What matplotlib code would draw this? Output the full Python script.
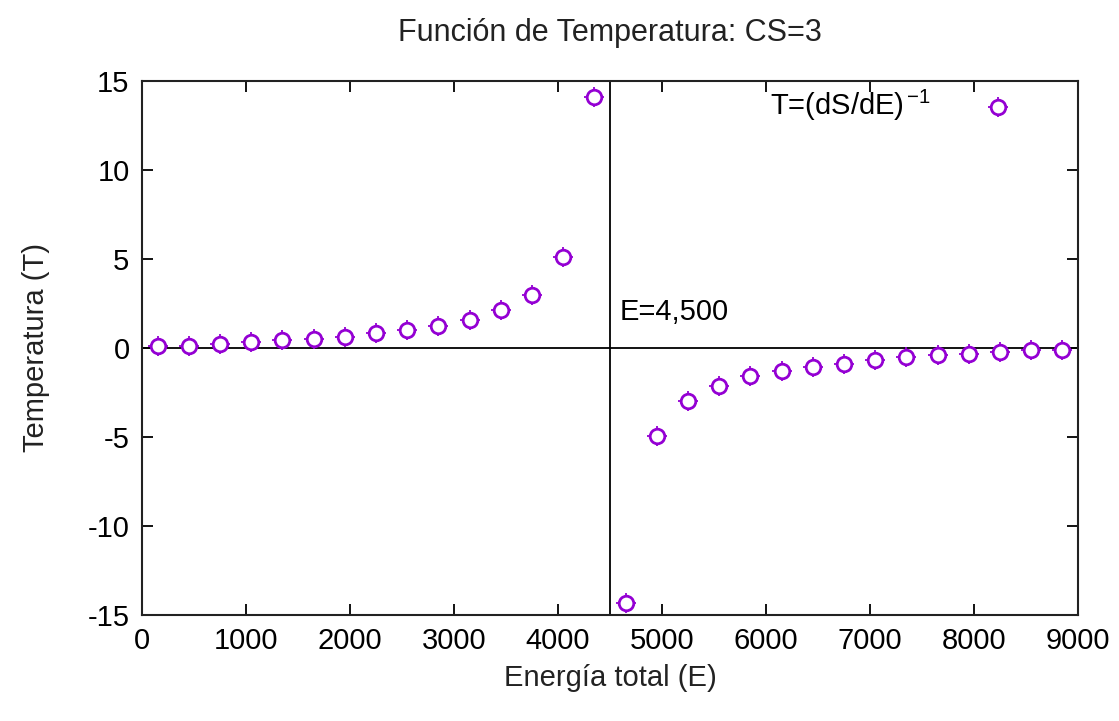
import numpy as np
import matplotlib
matplotlib.use("Agg")
from matplotlib import pyplot as plt

plt.rcParams['font.family'] = ['Liberation Sans', 'DejaVu Sans']
plt.rcParams['mathtext.fontset'] = 'custom'
plt.rcParams['mathtext.rm'] = 'Liberation Sans'
plt.rcParams['mathtext.it'] = 'Liberation Sans'
plt.rcParams['axes.unicode_minus'] = False

# total energy E and temperature T = (dS/dE)^-1 for CS=3
energia = [150, 450, 750, 1050, 1350, 1650, 1950, 2250, 2550, 2850,
           3150, 3450, 3750, 4050, 4350,
           4650, 4950, 5250, 5550, 5850, 6150, 6450, 6750, 7050, 7350,
           7650, 7950, 8250, 8550, 8850]
temperatura = [0.09, 0.09, 0.22, 0.31, 0.43, 0.51, 0.62, 0.84, 1.03, 1.25,
               1.59, 2.10, 2.98, 5.08, 14.11,
               -14.33, -4.97, -2.96, -2.16, -1.60, -1.32, -1.07, -0.88, -0.66, -0.53,
               -0.43, -0.32, -0.22, -0.13, -0.10]
e_critica = 4500

color = '#9400d3'
fs = 21

fig = plt.figure(figsize=(11.19, 7.21), dpi=100)
ax = fig.add_axes([0.1269, 0.1474, 0.8365, 0.7403])

ax.axhline(0, color='black', lw=1.3, zorder=1)
ax.axvline(e_critica, color='black', lw=1.3, zorder=1)


def puntos(x, y, **kw):
    # gnuplot-like point: open circle with little cross arms
    ax.plot(x, y, ls='none', marker='+', ms=14, mew=1.3, color=color,
            zorder=3, **kw)
    ax.plot(x, y, ls='none', marker='o', ms=10.5, mew=2.0, mfc='white',
            mec=color, zorder=4, **kw)


puntos(energia, temperatura)

# key: text first, then the sample point
ax.text(0.843, 0.955, r'T=(dS/dE)$^{\,\mathregular{-1}}$', transform=ax.transAxes,
        ha='right', va='center', fontsize=fs)
puntos([0.915], [0.951], transform=ax.transAxes, clip_on=False)

ax.text(e_critica + 90, 2.0, 'E=4,500', fontsize=fs, ha='left', va='center')

ax.set_xlim(0, 9000)
ax.set_ylim(-15, 15)
ax.set_xticks(np.arange(0, 9001, 1000))
ax.set_yticks(np.arange(-15, 16, 5))
ax.tick_params(direction='in', length=8, width=1.3, labelsize=fs,
               top=True, right=True, pad=9)
for s in ax.spines.values():
    s.set_linewidth(1.5)
    s.set_color('#222222')

ax.set_title('Función de Temperatura: CS=3', fontsize=fs + 1, pad=29,
             color='#222222')
ax.set_xlabel('Energía total (E)', fontsize=fs, labelpad=6, color='#222222')
ax.set_ylabel('Temperatura (T)', fontsize=fs, labelpad=27, color='#222222')

fig.savefig('out.png', dpi=100)
